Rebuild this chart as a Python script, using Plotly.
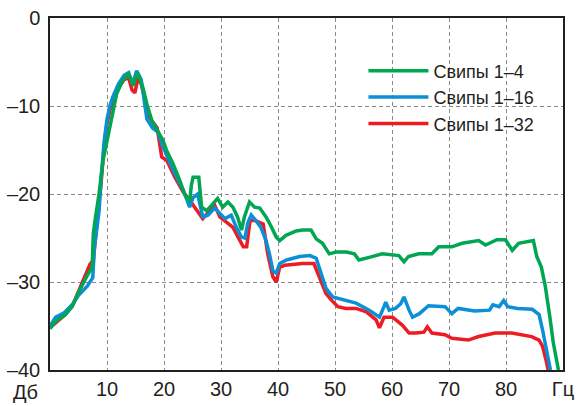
import plotly.graph_objects as go

# ---- data ----
series_names = ["Свипы 1–4", "Свипы 1–16", "Свипы 1–32"]

green_f = [0, 0.9, 2.7, 3.9, 4.9, 5.8, 6.6, 7.4, 7.6, 7.9, 8.6, 9.3, 10.2, 10.9, 11.7, 12.6,
           13.7, 14.2, 14.6, 15.0, 15.4, 16.3, 17.0, 17.9, 18.9, 19.8, 20.5, 21.6, 22.8, 23.6,
           24.5, 24.8, 25.1, 26.1, 26.6, 27.5, 28.6, 29.4, 30.3, 31.2, 32.1, 32.9, 33.6, 34.1,
           35.0, 35.9, 36.8, 37.9, 38.9, 39.7, 40.3, 41.4, 43.2, 44.3, 45.8, 46.7, 47.8, 49.0,
           50.2, 52.0, 53.4, 54.2, 56.0, 58.3, 61.2, 62.1, 62.9, 64.7, 67.0, 68.2, 70.5, 72.3,
           75.2, 76.4, 78.4, 79.9, 81.1, 82.2, 84.8, 85.4, 86.2, 86.9, 87.7, 88.3, 89.2]
green_db = [-35.3, -34.5, -33.7, -32.8, -31.3, -30.1, -29.2, -28.3, -24.5, -23.0, -20.0, -16.2,
            -13.2, -10.9, -8.6, -7.3, -6.4, -6.9, -7.7, -6.8, -6.3, -7.9, -9.8, -11.7, -12.8,
            -13.9, -15.1, -16.6, -18.5, -20.0, -20.9, -19.0, -18.1, -18.1, -21.5, -21.9, -21.1,
            -20.5, -21.5, -20.9, -21.5, -22.6, -24.1, -22.6, -20.9, -21.5, -21.6, -22.6, -23.8,
            -24.9, -25.3, -24.7, -24.2, -24.1, -24.1, -25.1, -25.6, -26.8, -26.6, -26.6, -26.8,
            -27.5, -27.2, -26.8, -27.0, -27.7, -27.1, -26.8, -26.8, -26.0, -26.0, -25.6, -25.3,
            -25.8, -25.2, -25.2, -26.4, -25.6, -25.3, -27.1, -28.3, -30.5, -34.0, -36.9, -40.0]

blue_f = [0, 1.0, 2.5, 4.0, 5.0, 6.5, 7.5, 7.8, 8.2, 8.6, 9.0, 9.5, 10.0, 10.5, 11.0, 12.0,
          13.0, 13.8, 14.5, 15.2, 16.0, 16.5, 17.0, 18.0, 19.0, 19.6, 21.9, 23.4, 24.5, 25.1,
          25.9, 26.8, 27.7, 28.9, 29.8, 30.7, 31.8, 32.7, 33.6, 34.2, 34.7, 35.3, 36.1, 37.0,
          37.9, 38.5, 39.1, 39.7, 40.3, 41.5, 43.8, 45.6, 46.7, 47.5, 48.4, 49.6, 51.4, 53.7,
          56.0, 57.8, 58.6, 58.9, 59.5, 60.6, 61.5, 62.1, 63.0, 63.6, 64.8, 66.4, 69.3, 70.5,
          71.6, 74.5, 77.1, 77.7, 78.8, 79.6, 80.3, 82.0, 84.6, 85.8, 86.4, 87.0, 87.6, 87.8]
blue_db = [-35.0, -34.0, -33.5, -32.5, -31.5, -30.5, -29.5, -26.0, -24.0, -22.0, -18.0, -14.0,
           -11.5, -10.0, -9.0, -7.5, -6.5, -6.2, -7.5, -6.0, -7.0, -9.5, -11.5, -12.5, -13.0,
           -14.3, -17.7, -19.6, -21.5, -20.4, -20.0, -22.6, -22.4, -21.6, -22.2, -22.8, -22.4,
           -23.8, -24.9, -25.0, -23.3, -22.4, -23.0, -23.8, -25.3, -26.8, -28.7, -29.0, -27.9,
           -27.5, -27.1, -27.0, -27.3, -28.9, -30.7, -31.7, -32.0, -32.4, -33.2, -34.0, -32.8,
           -32.3, -33.2, -33.0, -32.5, -31.7, -33.2, -34.0, -33.6, -32.7, -32.8, -33.6, -33.0,
           -33.3, -33.2, -32.6, -32.8, -32.1, -32.8, -33.0, -33.1, -33.7, -35.4, -37.3, -39.6,
           -40.0]

red_f = [0, 1.0, 2.5, 4.0, 5.0, 6.0, 7.0, 7.6, 8.0, 8.6, 9.0, 9.5, 10.0, 10.5, 11.2, 12.0,
         13.0, 13.8, 14.4, 14.9, 15.4, 16.0, 16.5, 17.0, 18.0, 18.8, 19.6, 20.5, 21.9, 23.4,
         24.5, 26.8, 28.0, 28.9, 29.8, 31.0, 32.1, 33.0, 33.9, 34.5, 35.1, 35.9, 37.4, 38.2,
         39.1, 39.7, 40.3, 41.2, 44.3, 46.3, 47.2, 48.4, 49.3, 50.5, 51.9, 53.7, 55.5, 57.2,
         57.8, 58.6, 60.1, 61.8, 63.0, 64.2, 65.6, 66.2, 67.0, 69.3, 70.5, 73.4, 75.2, 78.1,
         81.0, 84.5, 85.8, 86.4, 87.0, 87.4]
red_db = [-35.2, -34.6, -33.8, -32.6, -31.0, -29.5, -28.0, -27.5, -25.0, -21.5, -18.5, -14.5,
          -12.0, -10.5, -9.2, -8.0, -7.0, -6.8, -8.2, -8.5, -6.9, -7.5, -8.8, -10.8, -11.8,
          -12.5, -15.8, -16.2, -18.1, -19.8, -20.7, -22.8, -21.9, -21.3, -22.6, -23.2, -23.8,
          -24.9, -26.0, -26.0, -23.0, -23.0, -23.4, -26.8, -29.4, -30.0, -28.3, -28.1, -27.9,
          -27.9, -29.4, -31.3, -32.0, -32.8, -33.0, -33.0, -33.4, -34.3, -35.2, -34.0, -34.0,
          -34.9, -35.8, -35.8, -35.7, -35.1, -35.8, -36.0, -36.4, -36.6, -36.2, -35.8, -35.8,
          -36.2, -36.6, -37.3, -38.8, -40.0]

x_tickvals = [10, 20, 30, 40, 50, 60, 70, 80, 90]
x_ticktext = ["10", "20", "30", "40", "50", "60", "70", "80", "Гц"]
y_tickvals = [0, -10, -20, -30, -40]
y_ticktext = ["0", "–10", "–20", "–30", "–40"]
y_unit = "Дб"

colors = {"green": "#00a651", "blue": "#0b8fd6", "red": "#ed1c24"}

fig = go.Figure()
# draw red first, then blue, green on top; legend order green, blue, red
fig.add_trace(go.Scatter(x=red_f, y=red_db, mode="lines", name=series_names[2],
                         legendrank=3, line=dict(color=colors["red"], width=3.5)))
fig.add_trace(go.Scatter(x=blue_f, y=blue_db, mode="lines", name=series_names[1],
                         legendrank=2, line=dict(color=colors["blue"], width=3.5)))
fig.add_trace(go.Scatter(x=green_f, y=green_db, mode="lines", name=series_names[0],
                         legendrank=1, line=dict(color=colors["green"], width=3.5)))

font_family = "Liberation Sans, Arial, sans-serif"
fig.update_layout(
    width=577, height=406,
    margin=dict(l=49.5, r=14, t=17.5, b=36, autoexpand=False),
    paper_bgcolor="white", plot_bgcolor="white",
    font=dict(family=font_family, size=20, color="#231f20"),
    showlegend=True,
    legend=dict(x=0.611, y=0.902, xanchor="left", yanchor="top",
                bgcolor="rgba(0,0,0,0)", borderwidth=0,
                font=dict(size=18, color="#231f20"), itemwidth=60),
    annotations=[dict(text=y_unit, xref="paper", yref="paper", x=-0.048, y=-0.062,
                      xanchor="center", yanchor="middle", showarrow=False,
                      font=dict(size=20, color="#231f20"))],
)
fig.update_xaxes(range=[0, 90], tickvals=x_tickvals, ticktext=x_ticktext,
                 showgrid=True, gridcolor="#8a8a8a", gridwidth=1, griddash="4px,3px",
                 showline=True, linecolor="#231f20", linewidth=1.5, mirror=True,
                 ticks="", zeroline=False, automargin=False)
fig.update_yaxes(range=[-40, 0], tickvals=y_tickvals, ticktext=y_ticktext,
                 showgrid=True, gridcolor="#8a8a8a", gridwidth=1, griddash="4px,3px",
                 showline=True, linecolor="#231f20", linewidth=1.5, mirror=True,
                 ticks="", zeroline=False, ticklabelstandoff=4, automargin=False)

fig.write_html("out.html", config={"displayModeBar": False},
               post_script="document.body.style.margin='0';")
